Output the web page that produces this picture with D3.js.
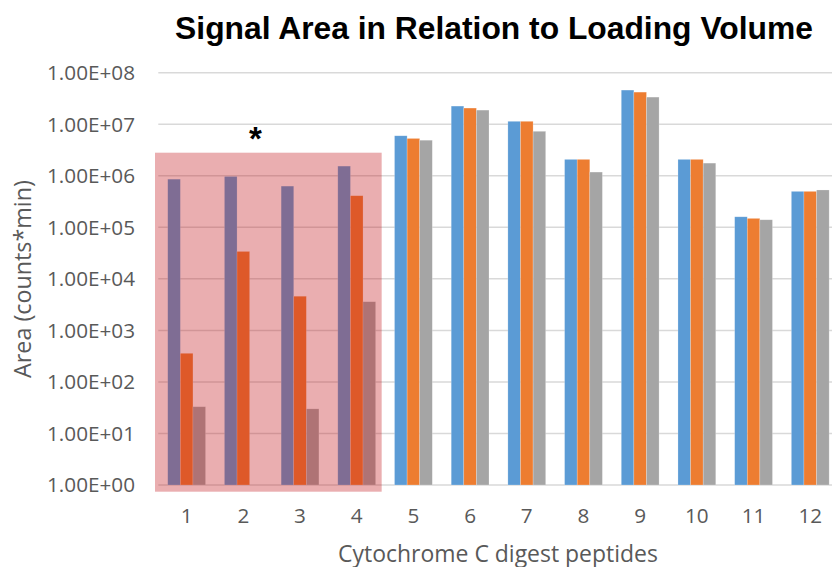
<!DOCTYPE html>
<html>
<head>
<meta charset="utf-8">
<script src="https://cdn.jsdelivr.net/npm/d3@7"></script>
<style>
  html, body { margin: 0; padding: 0; background: #fff; }
  svg { display: block; }
</style>
</head>
<body>
<svg id="chart" width="832" height="567"></svg>
<script>
// Peptide categories (x axis)
const peptides = ["1", "2", "3", "4", "5", "6", "7", "8", "9", "10", "11", "12"];
// Three loading volumes, one series each
const seriesNames = ["low", "mid", "high"];
const seriesLow  = [8.6e5, 9.7e5, 6.3e5, 1.54e6, 5.97e6, 2.25e7, 1.14e7, 2.08e6, 4.6e7, 2.08e6, 1.6e5, 4.98e5];
const seriesMid  = [359, 3.4e4, 4.6e3, 4.1e5, 5.3e6, 2.06e7, 1.14e7, 2.08e6, 4.2e7, 2.08e6, 1.49e5, 4.98e5];
const seriesHigh = [33, null, 30, 3.6e3, 4.9e6, 1.88e7, 7.3e6, 1.18e6, 3.36e7, 1.76e6, 1.40e5, 5.3e5];
// Y axis tick values and labels
const yTicks = [1, 10, 100, 1e3, 1e4, 1e5, 1e6, 1e7, 1e8];
const yTickLabels = ["1.00E+00", "1.00E+01", "1.00E+02", "1.00E+03", "1.00E+04", "1.00E+05", "1.00E+06", "1.00E+07", "1.00E+08"];
// Peptides flagged by the shaded box
const flagged = ["1", "2", "3", "4"];

const colors = ["#5B9BD5", "#ED7D31", "#A5A5A5"];
const seriesValues = [seriesLow, seriesMid, seriesHigh];

const svg = d3.select("#chart");
const uiFont = "'Open Sans', 'Noto Sans', sans-serif";

const x = d3.scaleBand().domain(peptides).range([158.3, 838.6]).padding(0);
const xSub = d3.scaleBand().domain(seriesNames).range([0, x.bandwidth()])
  .paddingInner(0).paddingOuter(0.75);
const y = d3.scaleLog().domain([1, 1e8]).range([485, 72.7]);

// fit a text element's font size to a target width; returns the size
function fitWidth(sel, target) {
  const base = parseFloat(sel.attr("font-size"));
  const w = sel.node().getComputedTextLength();
  const size = w > 0 ? base * target / w : base;
  sel.attr("font-size", size);
  return size;
}

// gridlines
svg.append("g").selectAll("line").data(yTicks).join("line")
  .attr("x1", 158.3).attr("x2", 832)
  .attr("y1", d => y(d)).attr("y2", d => y(d))
  .attr("stroke", "#D9D9D9").attr("stroke-width", 1.5);

// bars
const rows = [];
peptides.forEach((p, i) => {
  seriesNames.forEach((s, j) => {
    const v = seriesValues[j][i];
    if (v != null) rows.push({ p, s, v, c: colors[j] });
  });
});
svg.append("g").selectAll("rect").data(rows).join("rect")
  .attr("x", d => x(d.p) + xSub(d.s))
  .attr("width", xSub.bandwidth())
  .attr("y", d => y(d.v))
  .attr("height", d => y(1) - y(d.v))
  .attr("fill", d => d.c)
  .attr("stroke", "rgba(255,255,255,0.35)")
  .attr("stroke-width", 0.6);

// shaded box over the flagged peptides
const fx0 = x(flagged[0]) - 3.3;
const fx1 = x(flagged[flagged.length - 1]) + x.bandwidth() - 3.4;
svg.append("rect")
  .attr("x", fx0).attr("width", fx1 - fx0)
  .attr("y", 152.7).attr("height", 491.7 - 152.7)
  .attr("fill", "rgb(196,22,30)").attr("fill-opacity", 0.35);

// asterisk above the box
svg.append("text")
  .attr("x", 255.5).attr("y", 150)
  .attr("text-anchor", "middle")
  .attr("font-family", "'Liberation Sans', Arial, sans-serif")
  .attr("font-weight", "bold").attr("font-size", 33)
  .attr("fill", "#000").text("*");

// y tick labels
const yLabels = svg.append("g").selectAll("text").data(yTicks).join("text")
  .attr("x", 135).attr("y", d => y(d))
  .attr("dy", "0.36em")
  .attr("text-anchor", "end")
  .attr("font-family", uiFont).attr("font-size", 17.5)
  .attr("fill", "#595959")
  .text((d, i) => yTickLabels[i]);
const tickSize = fitWidth(d3.select(yLabels.nodes()[8]), 88);
yLabels.attr("font-size", tickSize);

// x tick labels
svg.append("g").selectAll("text").data(peptides).join("text")
  .attr("x", d => x(d) + x.bandwidth() / 2).attr("y", 523)
  .attr("text-anchor", "middle")
  .attr("font-family", uiFont).attr("font-size", tickSize)
  .attr("fill", "#595959")
  .text(d => d);

// axis titles
const xTitle = svg.append("text")
  .attr("x", 498).attr("y", 561.5)
  .attr("text-anchor", "middle")
  .attr("font-family", uiFont).attr("font-size", 19)
  .attr("fill", "#595959")
  .text("Cytochrome C digest peptides");
fitWidth(xTitle, 320);

const yTitle = svg.append("text")
  .attr("transform", "translate(31,279) rotate(-90)")
  .attr("text-anchor", "middle")
  .attr("font-family", uiFont).attr("font-size", 19)
  .attr("fill", "#595959")
  .text("Area (counts*min)");
fitWidth(yTitle, 198);

// chart title
const title = svg.append("text")
  .attr("x", 494).attr("y", 38.5)
  .attr("text-anchor", "middle")
  .attr("font-family", "'Liberation Sans', Arial, sans-serif")
  .attr("font-weight", "bold").attr("font-size", 26)
  .attr("fill", "#000")
  .text("Signal Area in Relation to Loading Volume");
fitWidth(title, 638);
</script>
</body>
</html>
